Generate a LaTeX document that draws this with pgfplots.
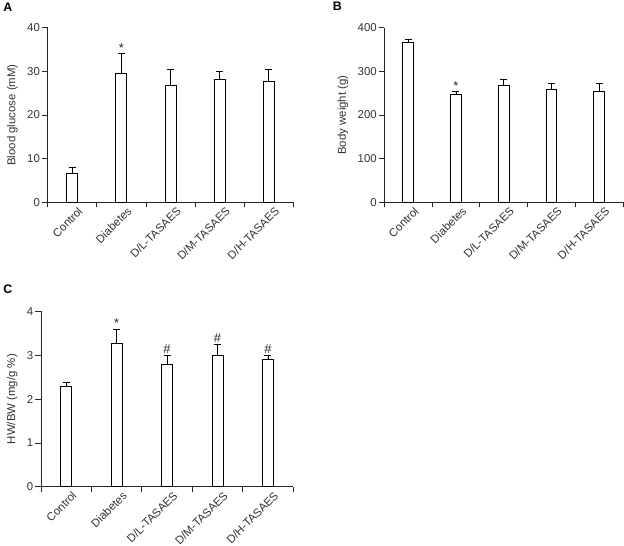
\documentclass[border=0pt]{standalone}
\usepackage{pgfplots}
\pgfplotsset{compat=1.18}
\usepackage{fontspec}
\setmainfont{Liberation Sans}
\begin{document}
\pgfplotsset{
  panel/.style={
    scale only axis,
    anchor=south west,
    axis lines=left,
    axis line style={-, line width=0.7bp, black!85},
    xmin=-0.5, xmax=4.5,
    xtick={0,1,2,3,4},
    xticklabels={Control,Diabetes,D/L-TASAES,D/M-TASAES,D/H-TASAES},
    major x tick style={draw=none},
    minor xtick={-0.5,0.5,1.5,2.5,3.5,4.5},
    minor tick length=5bp,
    major tick length=5.5bp,
    tick align=outside,
    tick style={black!85, line width=0.7bp},
    x tick label style={rotate=45, anchor=north east, inner sep=1pt, xshift=6bp, yshift=-1.5bp},
    y tick label style={inner sep=2pt},
    ticklabel style={font=\fontsize{11.5}{13}\selectfont, text=black!80},
    label style={font=\fontsize{11.5}{13}\selectfont, text=black!80},
    ylabel shift=4bp,
    /pgf/number format/assume math mode=true,
    ymin=0,
    clip=false,
  },
  bars/.style={ybar, bar width=11bp, fill=white, draw=black, line width=0.8bp,
    error bars/.cd, y dir=plus, y explicit,
    error bar style={black, line width=0.8bp},
    error mark options={black, line width=0.8bp, mark size=3.5bp, rotate=90}},
  sig/.style={draw=none, mark=none, nodes near coords, point meta=explicit symbolic,
    every node near coord/.append style={font=\fontsize{13}{15}\selectfont, text=black!85, anchor=south, inner sep=1.5bp}},
}
\begin{tikzpicture}
\useasboundingbox (0,0) rectangle (624bp,548bp);
\node[anchor=base west, inner sep=0pt, font=\fontsize{12.5}{14}\selectfont\bfseries] at (0.5bp,536.3bp) {A};
\node[anchor=base west, inner sep=0pt, font=\fontsize{12.5}{14}\selectfont\bfseries] at (331.5bp,537bp) {B};
\node[anchor=base west, inner sep=0pt, font=\fontsize{12.5}{14}\selectfont\bfseries] at (0.5bp,253bp) {C};

% Panel A
\begin{axis}[panel, at={(45bp,344.7bp)}, width=247bp, height=175.6bp,
  ymax=40, ytick={0,10,20,30,40}, ylabel={Blood glucose (mM)}]
\addplot[bars] coordinates {
  (0,6.6) +- (0,1.4)
  (1,29.6) +- (0,4.4)
  (2,26.7) +- (0,3.8)
  (3,28.2) +- (0,1.8)
  (4,27.7) +- (0,2.8)
};
\addplot[sig] coordinates {(1,34.0)[*]};
\end{axis}

% Panel B
\begin{axis}[panel, at={(383.3bp,344.7bp)}, width=239.7bp, height=175.6bp,
  ymax=400, ytick={0,100,200,300,400}, ylabel={Body weight (g)}]
\addplot[bars] coordinates {
  (0,365) +- (0,8)
  (1,248) +- (0,5)
  (2,268) +- (0,14)
  (3,258) +- (0,15)
  (4,254) +- (0,19)
};
\addplot[sig] coordinates {(1,253)[*]};
\end{axis}

% Panel C
\begin{axis}[panel, at={(38.3bp,59bp)}, width=253.4bp, height=176.3bp,
  ymax=4, ytick={0,1,2,3,4}, ylabel={HW/BW (mg/g \%)}]
\addplot[bars] coordinates {
  (0,2.29) +- (0,0.10)
  (1,3.27) +- (0,0.32)
  (2,2.78) +- (0,0.22)
  (3,2.99) +- (0,0.25)
  (4,2.90) +- (0,0.09)
};
\addplot[sig] coordinates {(1,3.59)[*] (2,3.0)[\#] (3,3.24)[\#] (4,2.99)[\#]};
\end{axis}
\end{tikzpicture}
\end{document}
